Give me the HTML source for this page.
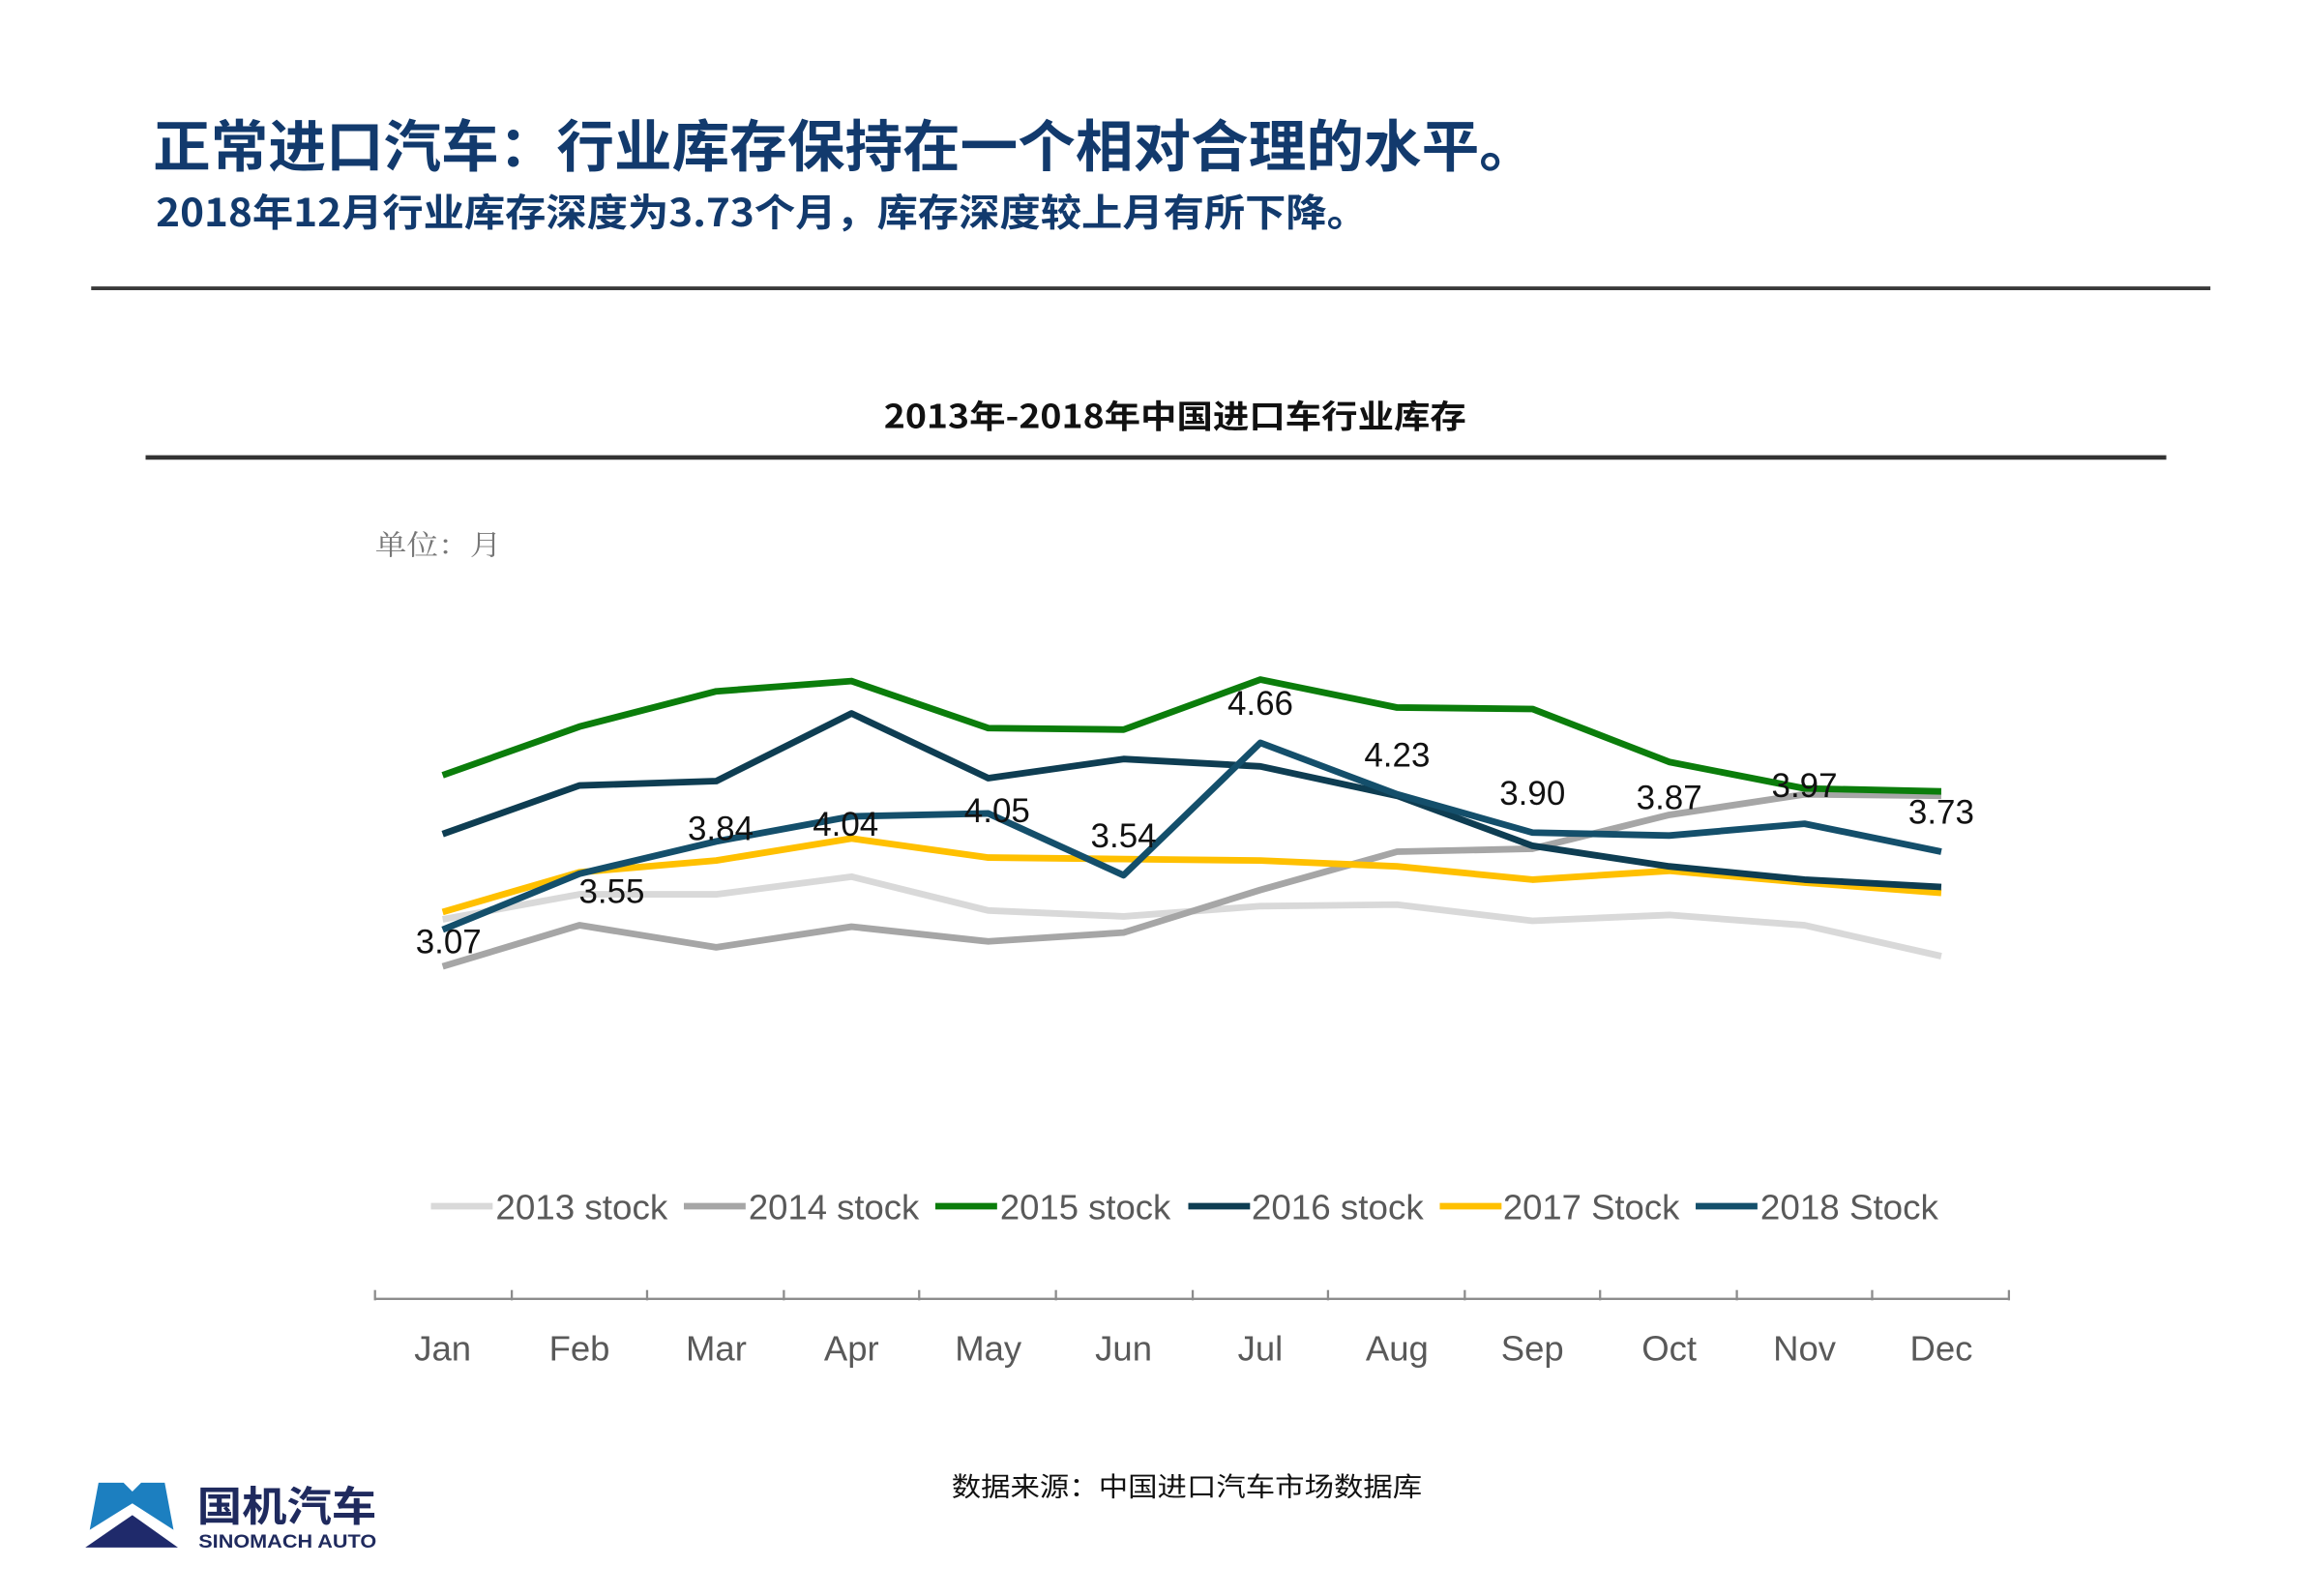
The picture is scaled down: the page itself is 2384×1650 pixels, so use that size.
<!DOCTYPE html>
<html><head><meta charset="utf-8"><style>
html,body{margin:0;padding:0;background:#fff;}
svg{display:block;}
text{font-family:"Liberation Sans","Noto Sans CJK SC",sans-serif;}
</style></head><body>
<svg width="2384" height="1650" viewBox="0 0 1568 1085" preserveAspectRatio="none" xmlns="http://www.w3.org/2000/svg">
<text x="104" y="113" font-size="38" font-weight="bold" fill="#123a6d" textLength="941" lengthAdjust="spacingAndGlyphs" style="font-family:'Noto Sans CJK SC',sans-serif">正常进口汽车：行业库存保持在一个相对合理的水平。</text>
<text x="106" y="154" font-size="26" font-weight="bold" fill="#123a6d" textLength="824" lengthAdjust="spacingAndGlyphs" style="font-family:'Noto Sans CJK SC',sans-serif">2018年12月行业库存深度为3.73个月，库存深度较上月有所下降。</text>
<line x1="62" y1="196" x2="1503" y2="196" stroke="#3a3a3a" stroke-width="2.5"/>
<text x="601" y="291" font-size="22" font-weight="bold" fill="#111" textLength="396" lengthAdjust="spacingAndGlyphs" style="font-family:'Noto Sans CJK SC',sans-serif">2013年-2018年中国进口车行业库存</text>
<line x1="99" y1="311" x2="1473" y2="311" stroke="#333" stroke-width="3"/>
<text x="255" y="377" font-size="19" fill="#777" textLength="86" lengthAdjust="spacingAndGlyphs" style="font-family:'Noto Serif CJK SC',serif">单位：月</text>
<g fill="none" stroke-width="4.5" stroke-linejoin="round">
<polyline stroke="#d9d9d9" points="301,625 394,608 487,608 579,596 672,619 764,623 857,616 950,615 1042,626 1135,622 1227,629 1320,650"/>
<polyline stroke="#a6a6a6" points="301,657 394,629 487,644 579,630 672,640 764,634 857,605 950,579 1042,577 1135,554 1227,540 1320,541"/>
<polyline stroke="#ffc000" points="301,620 394,593 487,585 579,570 672,583 764,584 857,585 950,589 1042,598 1135,592 1227,600 1320,607"/>
<polyline stroke="#0b7d0b" points="301,527 394,494 487,470 579,463 672,495 764,496 857,462 950,481 1042,482 1135,518 1227,536 1320,538"/>
<polyline stroke="#0e3d52" points="301,567 394,534 487,531 579,485 672,529 764,516 857,521 950,541 1042,575 1135,589 1227,598 1320,603"/>
<polyline stroke="#144f6b" points="301,632 394,594 487,572 579,555 672,553 764,595 857,505 950,540 1042,566 1135,568 1227,560 1320,579"/>
</g>
<g font-size="23" fill="#111" text-anchor="middle">
<text x="305" y="648">3.07</text><text x="416" y="614">3.55</text><text x="490" y="571">3.84</text>
<text x="575" y="568">4.04</text><text x="678" y="559">4.05</text><text x="764" y="576">3.54</text>
<text x="857" y="486">4.66</text><text x="950" y="521">4.23</text><text x="1042" y="547">3.90</text>
<text x="1135" y="550">3.87</text><text x="1227" y="542">3.97</text><text x="1320" y="560">3.73</text>
</g>
<g stroke-width="4.5">
<line x1="293" y1="820" x2="335" y2="820" stroke="#d9d9d9"/>
<line x1="465" y1="820" x2="507" y2="820" stroke="#a6a6a6"/>
<line x1="636" y1="820" x2="678" y2="820" stroke="#0b7d0b"/>
<line x1="808" y1="820" x2="850" y2="820" stroke="#0e3d52"/>
<line x1="979" y1="820" x2="1021" y2="820" stroke="#ffc000"/>
<line x1="1153" y1="820" x2="1195" y2="820" stroke="#144f6b"/>
</g>
<g font-size="24" fill="#595959">
<text x="337" y="829" textLength="117" lengthAdjust="spacingAndGlyphs">2013 stock</text>
<text x="509" y="829" textLength="116" lengthAdjust="spacingAndGlyphs">2014 stock</text>
<text x="680" y="829" textLength="116" lengthAdjust="spacingAndGlyphs">2015 stock</text>
<text x="851" y="829" textLength="117" lengthAdjust="spacingAndGlyphs">2016 stock</text>
<text x="1022" y="829" textLength="120" lengthAdjust="spacingAndGlyphs">2017 Stock</text>
<text x="1197" y="829" textLength="121" lengthAdjust="spacingAndGlyphs">2018 Stock</text>
</g>
<g stroke="#8c8c8c" stroke-width="1.5">
<line x1="255" y1="883" x2="1366" y2="883"/>
<line x1="255" y1="877" x2="255" y2="884"/><line x1="348" y1="877" x2="348" y2="884"/><line x1="440" y1="877" x2="440" y2="884"/>
<line x1="533" y1="877" x2="533" y2="884"/><line x1="625" y1="877" x2="625" y2="884"/><line x1="718" y1="877" x2="718" y2="884"/>
<line x1="811" y1="877" x2="811" y2="884"/><line x1="903" y1="877" x2="903" y2="884"/><line x1="996" y1="877" x2="996" y2="884"/>
<line x1="1088" y1="877" x2="1088" y2="884"/><line x1="1181" y1="877" x2="1181" y2="884"/><line x1="1273" y1="877" x2="1273" y2="884"/>
<line x1="1366" y1="877" x2="1366" y2="884"/>
</g>
<g font-size="24" fill="#595959" text-anchor="middle">
<text x="301" y="925">Jan</text><text x="394" y="925">Feb</text><text x="487" y="925">Mar</text><text x="579" y="925">Apr</text>
<text x="672" y="925">May</text><text x="764" y="925">Jun</text><text x="857" y="925">Jul</text><text x="950" y="925">Aug</text>
<text x="1042" y="925">Sep</text><text x="1135" y="925">Oct</text><text x="1227" y="925">Nov</text><text x="1320" y="925">Dec</text>
</g>
<text x="647" y="1017" font-size="18" fill="#111" textLength="320" lengthAdjust="spacingAndGlyphs" style="font-family:'Noto Sans CJK SC',sans-serif">数据来源：中国进口汽车市场数据库</text>
<polygon points="67,1008 84,1008 90,1014 96,1008 112,1008 118,1040 90,1022 61,1040" fill="#1c7fc0"/>
<polygon points="58,1052 90,1030 121,1052" fill="#1f2a6b"/>
<text x="134" y="1034" font-size="28" font-weight="bold" fill="#1f2a5e" textLength="122" lengthAdjust="spacingAndGlyphs" style="font-family:'Noto Sans CJK SC',sans-serif">国机汽车</text>
<text x="135" y="1052" font-size="13" font-weight="bold" fill="#1f2a5e" textLength="121" lengthAdjust="spacingAndGlyphs">SINOMACH AUTO</text>
</svg>
</body></html>
